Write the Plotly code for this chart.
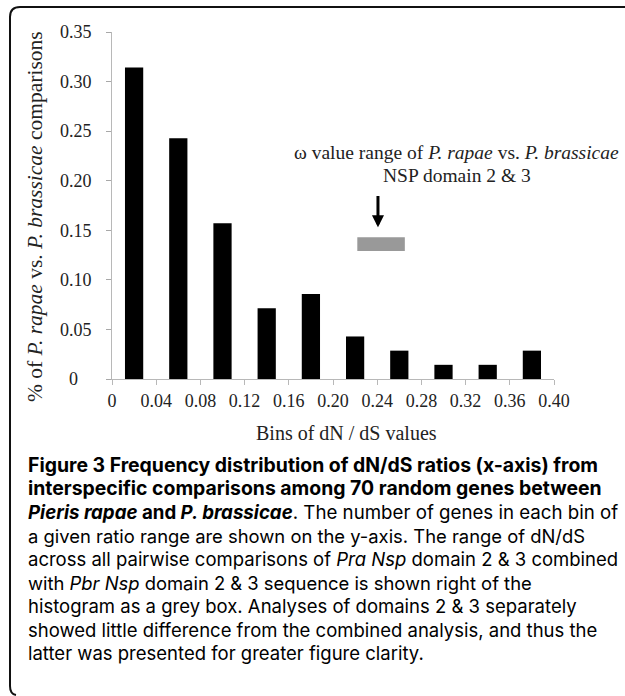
import plotly.graph_objects as go

# ---- data ----
bin_centers = [0.02, 0.06, 0.10, 0.14, 0.18, 0.22, 0.26, 0.30, 0.34, 0.38]
fractions = [0.3143, 0.2429, 0.1571, 0.0714, 0.0857, 0.0429, 0.0286, 0.0143, 0.0143, 0.0286]
x_tick_vals = [0, 0.04, 0.08, 0.12, 0.16, 0.20, 0.24, 0.28, 0.32, 0.36, 0.40]
x_tick_text = ["0", "0.04", "0.08", "0.12", "0.16", "0.20", "0.24", "0.28", "0.32", "0.36", "0.40"]
y_tick_vals = [0, 0.05, 0.10, 0.15, 0.20, 0.25, 0.30, 0.35]
y_tick_text = ["0\u2007\u2008", "0.05", "0.10", "0.15", "0.20", "0.25", "0.30", "0.35"]
omega_range = [0.222, 0.265]

caption_lines = [
    "<b>Figure 3 Frequency distribution of dN/dS ratios (x-axis) from</b>",
    "<b>interspecific comparisons among 70 random genes between</b>",
    "<b><i>Pieris rapae</i> and <i>P. brassicae</i></b>. The number of genes in each bin of",
    "a given ratio range are shown on the y-axis. The range of dN/dS",
    "across all pairwise comparisons of <i>Pra Nsp</i> domain 2 &amp; 3 combined",
    "with <i>Pbr Nsp</i> domain 2 &amp; 3 sequence is shown right of the",
    "histogram as a grey box. Analyses of domains 2 &amp; 3 separately",
    "showed little difference from the combined analysis, and thus the",
    "latter was presented for greater figure clarity.",
]
caption_sizes = [19.4, 19.4, 18.7, 18.4, 18.5, 18.4, 18.5, 18.5, 18.5]

W, H = 625, 696
L, R, T, B = 112, 554, 32, 379  # plot area in px


def px(x):
    return (x - L) / (R - L)


def py(y):
    return (B - y) / (B - T)


SERIF = "Liberation Serif"
SANS = "Inter"

fig = go.Figure()
fig.add_trace(go.Bar(x=bin_centers, y=fractions, width=0.0165,
                     marker=dict(color="black", line=dict(width=0)),
                     showlegend=False, hoverinfo="x+y"))

fig.update_layout(
    width=W, height=H,
    margin=dict(l=L, r=W - R, t=T, b=H - B),
    paper_bgcolor="white", plot_bgcolor="white",
    xaxis=dict(range=[0, 0.40], tickvals=x_tick_vals, ticktext=x_tick_text,
               showgrid=False, zeroline=False, showline=True, linecolor="#b8b8b8",
               linewidth=1, ticks="outside", ticklen=5, tickcolor="#b8b8b8",
               tickfont=dict(family=SERIF, size=18, color="#222")),
    yaxis=dict(range=[0, 0.35], tickvals=y_tick_vals, ticktext=y_tick_text,
               showgrid=False, zeroline=False, showline=True, linecolor="#b8b8b8",
               linewidth=1, ticks="outside", ticklen=5, tickcolor="#a8a8a8",
               ticklabelstandoff=11,
               tickfont=dict(family=SERIF, size=18, color="#222")),
)

# grey box: omega range
fig.add_shape(type="rect", xref="x", yref="y", x0=omega_range[0], x1=omega_range[1],
              y0=0.129, y1=0.143, fillcolor="#999999", line=dict(width=0))

# arrow
fig.add_annotation(x=0.2407, y=0.153, ax=0.2407, ay=0.186, xref="x", yref="y",
                   axref="x", ayref="y", text="", showarrow=True, arrowhead=2,
                   arrowsize=0.8, arrowwidth=3, arrowcolor="black")


def text_at(x, y, text, size, family=SERIF, angle=0, xanchor="center", color="#222"):
    fig.add_annotation(x=px(x), y=py(y), xref="paper", yref="paper", text=text,
                       showarrow=False, xanchor=xanchor, yanchor="middle",
                       textangle=angle, font=dict(family=family, size=size, color=color))


# annotation text
text_at(456, 152, "ω value range of <i>P. rapae</i> vs. <i>P. brassicae</i>", 19.5)
text_at(457, 175, "NSP domain 2 &amp; 3", 19.5)

# axis titles
text_at(346, 433, "Bins of dN / dS values", 20)
text_at(35, 217, "% of <i>P. rapae</i> vs. <i>P. brassicae</i> comparisons", 21.5, angle=-90)

# caption
y0 = 465
for i, line in enumerate(caption_lines):
    text_at(26, y0 + i * 23.5, line, caption_sizes[i], family=SANS, xanchor="left",
            color="black")

# border (rounded left corners, open on the right)
path = (f"M {px(625)},{py(7)} L {px(20)},{py(7)} Q {px(10)},{py(7)} {px(10)},{py(17)} "
        f"L {px(10)},{py(686)} Q {px(10)},{py(694)} {px(16)},{py(695)}")
fig.add_shape(type="path", xref="paper", yref="paper", path=path,
              line=dict(color="#111", width=2))

fig.write_html("out.html", config={"displayModeBar": False},
               post_script="document.body.style.margin='0px';")
